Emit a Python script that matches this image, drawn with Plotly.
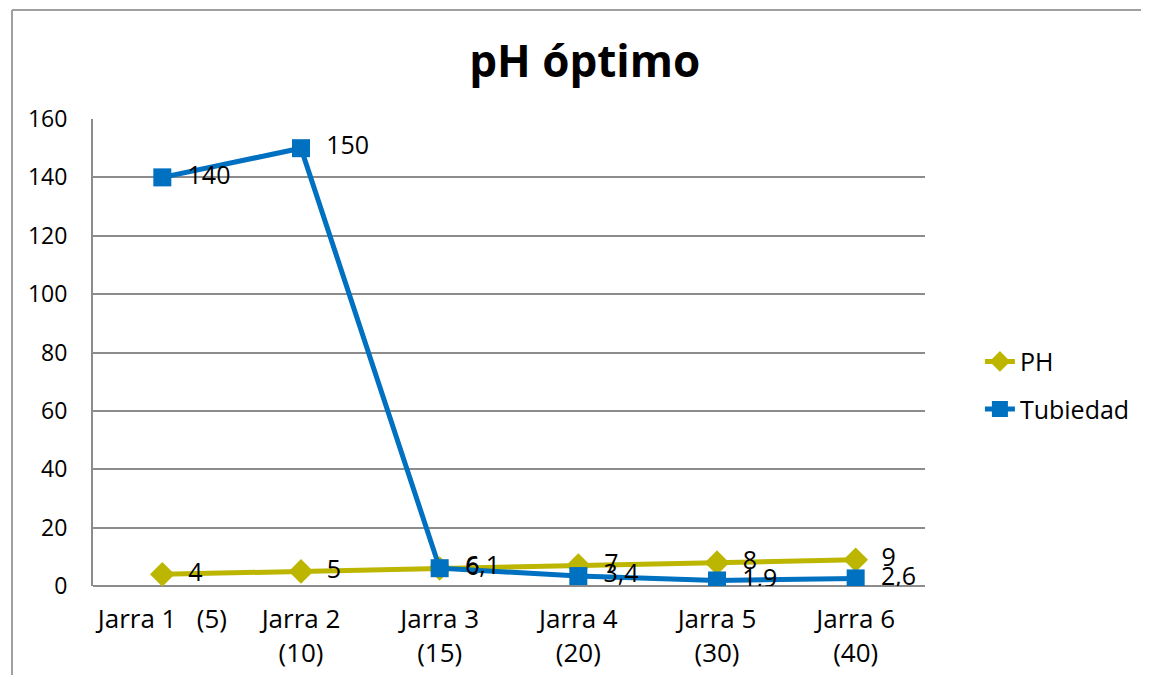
import plotly.graph_objects as go

categories = ["Jarra 1\u00a0\u00a0\u00a0(5)", "Jarra 2<br>(10)", "Jarra 3<br>(15)",
              "Jarra 4<br>(20)", "Jarra 5<br>(30)", "Jarra 6<br>(40)"]
ph_values = [4, 5, 6, 7, 8, 9]
turbidez_values = [140, 150, 6.1, 3.4, 1.9, 2.6]
y_ticks = [0, 20, 40, 60, 80, 100, 120, 140, 160]


def fmt(v):
    return "\u00a0\u00a0" + ("%g" % v).replace(".", ",")


FONT = "Open Sans"
W, H = 1141, 667          # page body has an 8px margin
L, T = 85, 111
PW, PH_ = 832, 467

fig = go.Figure()
fig.add_trace(go.Scatter(
    x=categories, y=ph_values, name="PH", mode="lines+markers+text",
    text=[fmt(v) for v in ph_values], textposition="middle right",
    textfont=dict(family=FONT, size=25, color="#000000"),
    line=dict(color="#BDB600", width=5),
    marker=dict(symbol="diamond", size=19, color="#BDB600"),
    legendgroup="a",
))
fig.add_trace(go.Scatter(
    x=categories, y=turbidez_values, name="Tubiedad", mode="lines+markers+text",
    text=[fmt(v) for v in turbidez_values], textposition="middle right",
    textfont=dict(family=FONT, size=25, color="#000000"),
    line=dict(color="#0070C0", width=5),
    marker=dict(symbol="square", size=18, color="#0070C0"),
    legendgroup="b",
))

top_y = 1 + (T - 2) / PH_
left_x = (4 - L) / PW
fig.update_layout(
    width=W, height=H,
    margin=dict(l=L, r=W - L - PW, t=T, b=H - T - PH_, pad=0, autoexpand=False),
    paper_bgcolor="white", plot_bgcolor="white",
    font=dict(family=FONT, size=23, color="#000000"),
    title=dict(text="<b>pH óptimo</b>", x=0.591, xref="paper", xanchor="center",
               y=1 - 54 / H, yref="container", yanchor="middle",
               font=dict(family=FONT, size=44, color="#000000")),
    showlegend=True,
    legend=dict(x=1.066, xanchor="left", y=0.43, yanchor="middle",
                font=dict(family=FONT, size=25, color="#000000"),
                tracegroupgap=12, bgcolor="rgba(0,0,0,0)"),
    xaxis=dict(type="category", range=[-0.5, 5.5], showgrid=False,
               showline=False, ticks="", ticklabelstandoff=15, automargin=False,
               tickfont=dict(family=FONT, size=26)),
    yaxis=dict(range=[0, 160], tickvals=y_ticks, showgrid=True,
               gridcolor="#8C8C8C", gridwidth=2, zeroline=True,
               zerolinecolor="#8C8C8C", zerolinewidth=2,
               showline=True, linecolor="#8C8C8C", linewidth=2,
               ticks="", ticklabelstandoff=19, automargin=False,
               tickfont=dict(family=FONT, size=23)),
    shapes=[
        dict(type="line", xref="paper", yref="paper",
             x0=left_x, x1=1.5, y0=top_y, y1=top_y,
             line=dict(color="#A0A0A0", width=2), layer="below"),
        dict(type="line", xref="paper", yref="paper",
             x0=left_x, x1=left_x, y0=-0.5, y1=top_y,
             line=dict(color="#A0A0A0", width=2), layer="below"),
    ],
)

fig.write_html("out.html")
